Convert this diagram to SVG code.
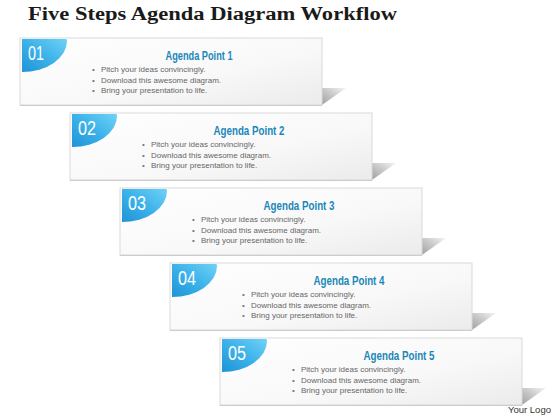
<svg xmlns="http://www.w3.org/2000/svg" width="560" height="420" viewBox="0 0 560 420">
<defs>
<linearGradient id="boxg" x1="0" y1="0" x2="1" y2="1">
<stop offset="0" stop-color="#ffffff"/>
<stop offset="0.6" stop-color="#f8f8f8"/>
<stop offset="1" stop-color="#ebebeb"/>
</linearGradient>
<linearGradient id="tabg" x1="1" y1="0" x2="0" y2="1">
<stop offset="0" stop-color="#6fd2f6"/>
<stop offset="0.5" stop-color="#3cb2ea"/>
<stop offset="1" stop-color="#1f93d6"/>
</linearGradient>
<linearGradient id="shg" x1="0" y1="1" x2="1" y2="0">
<stop offset="0" stop-color="#a0a0a0"/>
<stop offset="0.5" stop-color="#c8c8c8"/>
<stop offset="1" stop-color="#f4f4f4"/>
</linearGradient>
<g id="step">
<polygon points="302,50 326,50 302,67" fill="url(#shg)"/>
<rect x="0" y="0" width="302" height="67" fill="url(#boxg)" stroke="#d9d9d9" stroke-width="1"/>
<line x1="0" y1="67.5" x2="302" y2="67.5" stroke="#cccccc" stroke-width="1"/>
<path d="M2,1 H46 Q47,1 47,3 A45,31 0 0 1 2,34 Z" fill="url(#tabg)"/>
<text class="b" x="72" y="34">•</text>
<text class="b" x="72" y="44.5">•</text>
<text class="b" x="72" y="55">•</text>
<text class="t" x="81" y="34">Pitch your ideas convincingly.</text>
<text class="t" x="81" y="44.5">Download this awesome diagram.</text>
<text class="t" x="81" y="55">Bring your presentation to life.</text>
</g>
</defs>
<style>
.title{font-family:"Liberation Serif",serif;font-weight:bold;font-size:18px;fill:#1a1a1a}
.h{font-family:"Liberation Sans",sans-serif;font-weight:bold;font-size:13px;fill:#1b87b8}
.n{font-family:"Liberation Sans",sans-serif;font-size:20px;fill:#ffffff}
.b{font-family:"Liberation Sans",sans-serif;font-size:8px;fill:#777}
.t{font-family:"Liberation Sans",sans-serif;font-size:8px;fill:#666}
.logo{font-family:"Liberation Sans",sans-serif;font-size:9.5px;fill:#333}
</style>
<rect x="0" y="0" width="560" height="420" fill="#ffffff"/>
<text class="title" x="28" y="20" textLength="369" lengthAdjust="spacingAndGlyphs">Five Steps Agenda Diagram Workflow</text>
<g id="connectors"/>
<g id="node1" transform="translate(20,38)">
<use href="#step"/>
<text class="n" x="8" y="22" textLength="16" lengthAdjust="spacingAndGlyphs">01</text>
<text class="h" x="179" y="22" text-anchor="middle" textLength="67" lengthAdjust="spacingAndGlyphs">Agenda Point 1</text>
</g>
<g id="node2" transform="translate(70,113)">
<use href="#step"/>
<text class="n" x="8" y="22" textLength="18" lengthAdjust="spacingAndGlyphs">02</text>
<text class="h" x="179" y="22" text-anchor="middle" textLength="71" lengthAdjust="spacingAndGlyphs">Agenda Point 2</text>
</g>
<g id="node3" transform="translate(120,188)">
<use href="#step"/>
<text class="n" x="8" y="22" textLength="18" lengthAdjust="spacingAndGlyphs">03</text>
<text class="h" x="179" y="22" text-anchor="middle" textLength="71" lengthAdjust="spacingAndGlyphs">Agenda Point 3</text>
</g>
<g id="node4" transform="translate(170,263)">
<use href="#step"/>
<text class="n" x="8" y="22" textLength="18" lengthAdjust="spacingAndGlyphs">04</text>
<text class="h" x="179" y="22" text-anchor="middle" textLength="71" lengthAdjust="spacingAndGlyphs">Agenda Point 4</text>
</g>
<g id="node5" transform="translate(220,338)">
<use href="#step"/>
<text class="n" x="8" y="22" textLength="18" lengthAdjust="spacingAndGlyphs">05</text>
<text class="h" x="179" y="22" text-anchor="middle" textLength="71" lengthAdjust="spacingAndGlyphs">Agenda Point 5</text>
</g>
<text class="logo" x="508" y="413">Your Logo</text>
</svg>
